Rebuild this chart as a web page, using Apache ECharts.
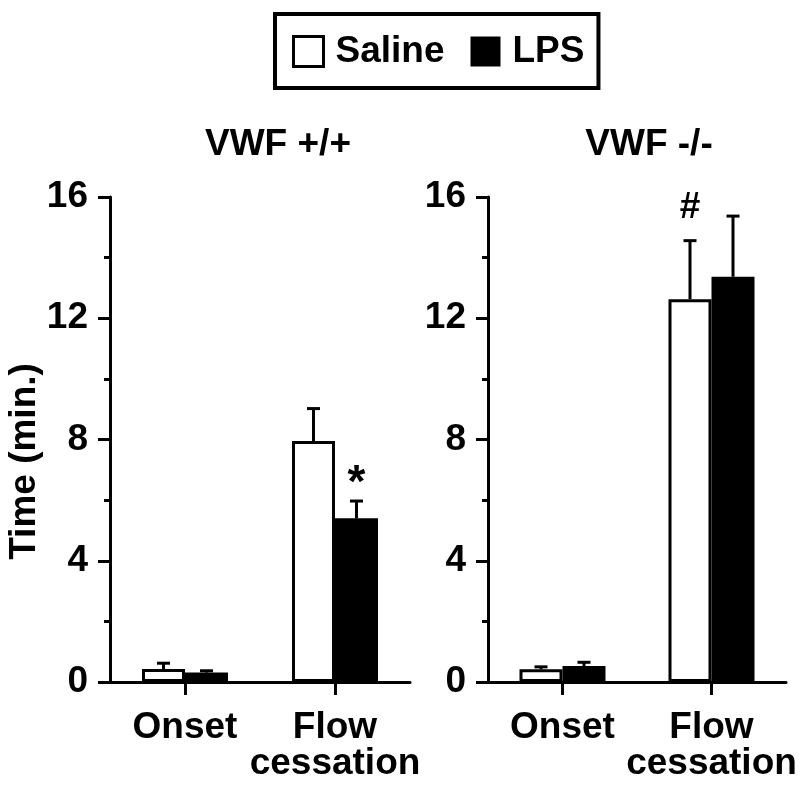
<!DOCTYPE html>
<html><head><meta charset="utf-8">
<script src="https://cdn.jsdelivr.net/npm/echarts@6/dist/echarts.min.js"></script>
<style>html,body{margin:0;padding:0;background:#fff}#c{width:800px;height:793px}</style>
</head><body><div id="c"></div>
<script>
// ---- data ----
const categories = ['Onset', 'Flow\ncessation'];
const panelTitles = ['VWF +/+', 'VWF -/-'];
const seriesNames = ['Saline', 'LPS'];
const yAxisName = 'Time (min.)';
const yMin = 0, yMax = 16, yStep = 4;
// VWF +/+
const wtSaline = [0.43, 7.95];
const wtSalineErr = [0.19, 1.07];
const wtLPS = [0.31, 5.40];
const wtLPSErr = [0.06, 0.57];
const wtSalineMarks = ['', ''];
const wtLPSMarks = ['', '*'];
// VWF -/-
const koSaline = [0.42, 12.63];
const koSalineErr = [0.08, 1.93];
const koLPS = [0.53, 13.37];
const koLPSErr = [0.12, 2.0];
const koSalineMarks = ['', '#'];
const koLPSMarks = ['', ''];

// ---- style ----
const FONT = '"Liberation Sans", Arial, Helvetica, sans-serif';
const FS = 37;
const BAR_W = 43;
const markLift = {'*': 17, '#': 33};
const markSize = {'*': 46, '#': 37};

const chart = echarts.init(document.getElementById('c'), null, {renderer: 'canvas'});

const grids = [
  {left: 110, top: 197, width: 300, height: 485},
  {left: 488, top: 197, width: 298, height: 485}
];

function xAxisFor(g) {
  return {
    type: 'category', gridIndex: g, data: categories,
    axisLine: {lineStyle: {color: '#000', width: 3}},
    axisTick: {show: true, alignWithLabel: true, length: 13, lineStyle: {color: '#000', width: 3}},
    axisLabel: {interval: 0, color: '#000', fontFamily: FONT, fontWeight: 'bold', fontSize: FS, lineHeight: 36, margin: 28},
    splitLine: {show: false}
  };
}
function yAxisFor(g, withName) {
  return {
    type: 'value', gridIndex: g, min: yMin, max: yMax, interval: yStep,
    name: withName ? yAxisName : '', nameLocation: 'middle', nameGap: 66,
    nameTextStyle: {color: '#000', fontFamily: FONT, fontWeight: 'bold', fontSize: FS, padding: [0, 44, 0, 0]},
    axisLine: {show: true, lineStyle: {color: '#000', width: 3}},
    axisTick: {show: true, length: 12, lineStyle: {color: '#000', width: 3}},
    minorTick: {show: true, splitNumber: 2, length: 6, lineStyle: {color: '#000', width: 3}},
    axisLabel: {color: '#000', fontFamily: FONT, fontWeight: 'bold', fontSize: FS, margin: 22},
    splitLine: {show: false}
  };
}

function barSeries(name, g, data) {
  const white = name === 'Saline';
  return {
    type: 'bar', name: name, xAxisIndex: g, yAxisIndex: g, data: data,
    barWidth: BAR_W, barGap: '0%',
    itemStyle: {color: white ? '#fff' : '#000', borderColor: '#000', borderWidth: 3},
    emphasis: {disabled: true}, z: 2
  };
}

function errSeries(name, g, means, errs, marks, side) {
  return {
    type: 'custom', name: name, xAxisIndex: g, yAxisIndex: g,
    data: means.map((m, i) => [i, m, errs[i]]),
    z: 3, silent: true,
    renderItem: function (params, api) {
      const i = api.value(0), m = api.value(1), e = api.value(2);
      const base = api.coord([i, m]);
      const top = api.coord([i, m + e]);
      const x = base[0] + side * BAR_W / 2;
      const children = [
        {type: 'line', shape: {x1: x, y1: base[1], x2: x, y2: top[1]}, style: {stroke: '#000', lineWidth: 3}},
        {type: 'line', shape: {x1: x - 6.5, y1: top[1], x2: x + 6.5, y2: top[1]}, style: {stroke: '#000', lineWidth: 3}}
      ];
      const mk = marks[params.dataIndex];
      if (mk) {
        children.push({type: 'text', x: x, y: top[1] - (markLift[mk] || 25),
          style: {text: mk, fill: '#000', font: 'bold ' + (markSize[mk] || FS) + 'px ' + FONT, align: 'center', verticalAlign: 'middle'}});
      }
      return {type: 'group', children: children};
    }
  };
}

const option = {
  backgroundColor: '#fff',
  animation: false,
  title: [
    {text: panelTitles[0], left: 273, top: 121, textAlign: 'center',
     textStyle: {color: '#000', fontFamily: FONT, fontWeight: 'bold', fontSize: FS, lineHeight: 37}},
    {text: panelTitles[1], left: 644, top: 121, textAlign: 'center',
     textStyle: {color: '#000', fontFamily: FONT, fontWeight: 'bold', fontSize: FS, lineHeight: 37}}
  ],
  legend: {
    left: 275, top: 14, orient: 'horizontal',
    padding: [19, 14, 18, 17],
    borderColor: '#000', borderWidth: 4,
    itemWidth: 30, itemHeight: 30, itemGap: 26,
    icon: 'rect',
    selectedMode: false,
    textStyle: {color: '#000', fontFamily: FONT, fontWeight: 'bold', fontSize: FS, lineHeight: 37, padding: [0, 0, 0, 7]},
    data: [
      {name: seriesNames[0], itemStyle: {color: '#fff', borderColor: '#000', borderWidth: 3}},
      {name: seriesNames[1], itemStyle: {color: '#000', borderColor: '#000', borderWidth: 0}}
    ]
  },
  grid: grids,
  xAxis: [xAxisFor(0), xAxisFor(1)],
  yAxis: [yAxisFor(0, true), yAxisFor(1, false)],
  series: [
    barSeries(seriesNames[0], 0, wtSaline),
    barSeries(seriesNames[1], 0, wtLPS),
    barSeries(seriesNames[0], 1, koSaline),
    barSeries(seriesNames[1], 1, koLPS),
    errSeries('err-wt-saline', 0, wtSaline, wtSalineErr, wtSalineMarks, -1),
    errSeries('err-wt-lps', 0, wtLPS, wtLPSErr, wtLPSMarks, 1),
    errSeries('err-ko-saline', 1, koSaline, koSalineErr, koSalineMarks, -1),
    errSeries('err-ko-lps', 1, koLPS, koLPSErr, koLPSMarks, 1)
  ]
};
chart.setOption(option);
</script>
</body></html>
